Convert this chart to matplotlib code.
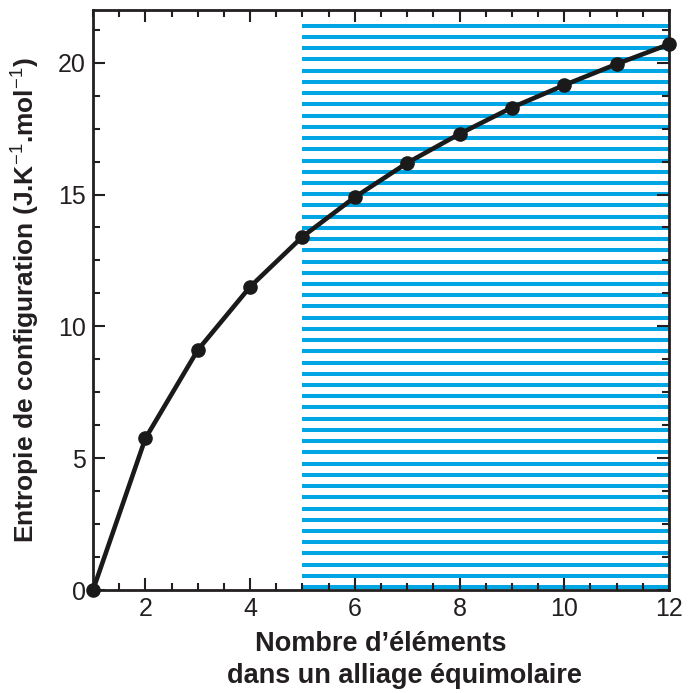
import numpy as np
import matplotlib.pyplot as plt
from matplotlib.ticker import MultipleLocator

plt.rcParams['font.family'] = ['Liberation Sans', 'DejaVu Sans']
plt.rcParams['mathtext.fontset'] = 'custom'
plt.rcParams['mathtext.rm'] = 'Liberation Sans'
plt.rcParams['mathtext.bf'] = 'Liberation Sans:bold'

# nombre d'elements / entropie de configuration (J/K/mol)
n_elements = [1, 2, 3, 4, 5, 6, 7, 8, 9, 10, 11, 12]
entropy = [0, 5.75, 9.1, 11.5, 13.4, 14.9, 16.2, 17.3, 18.3, 19.15, 19.95, 20.7]

# zone hachuree (alliages a haute entropie, n >= 5)
hea_start = 5
hea_end = 12
hatch_top = 21.4

text_col = '#231f20'
blue = '#00a5e3'

fig = plt.figure(figsize=(6.89, 6.93), dpi=100)
ax = fig.add_axes([0.135, 0.1486, 0.836, 0.837])

# hachures horizontales bleues
hatch_y = np.linspace(0.11, hatch_top, 51)
ax.hlines(hatch_y, hea_start, hea_end, color=blue, lw=2.9, zorder=1)

ax.plot(n_elements, entropy, color='#1a1a1a', lw=3.3, marker='o', ms=9.5,
        zorder=3, clip_on=False)

ax.set_xlim(1, 12)
ax.set_ylim(0, 22)
ax.set_xticks([2, 4, 6, 8, 10, 12])
ax.set_yticks([0, 5, 10, 15, 20])
ax.xaxis.set_minor_locator(MultipleLocator(0.5))
ax.yaxis.set_minor_locator(MultipleLocator(1.25))
ax.tick_params(which='both', direction='in', top=True, right=True,
               colors=text_col, labelsize=18, width=1.5)
ax.tick_params(which='major', length=8.5, pad=5)
ax.tick_params(which='minor', length=5)
for s in ax.spines.values():
    s.set_linewidth(2)
    s.set_color(text_col)

# titre de l'axe x sur deux lignes (la 2e est decalee a droite)
ax.set_xlabel('Nombre d\u2019éléments', fontsize=19.5, fontweight='bold',
              color=text_col, labelpad=7)
ax.text(0.54, -0.161, 'dans un alliage équimolaire', transform=ax.transAxes,
        ha='center', va='baseline', fontsize=19.5, fontweight='bold',
        color=text_col)
ax.set_ylabel(r'Entropie de configuration (J.K$^{-1}$.mol$^{-1}$)',
              fontsize=19, fontweight='bold', color=text_col)
ax.yaxis.set_label_coords(-0.09, 0.5)

fig.savefig('out.png', dpi=100)
